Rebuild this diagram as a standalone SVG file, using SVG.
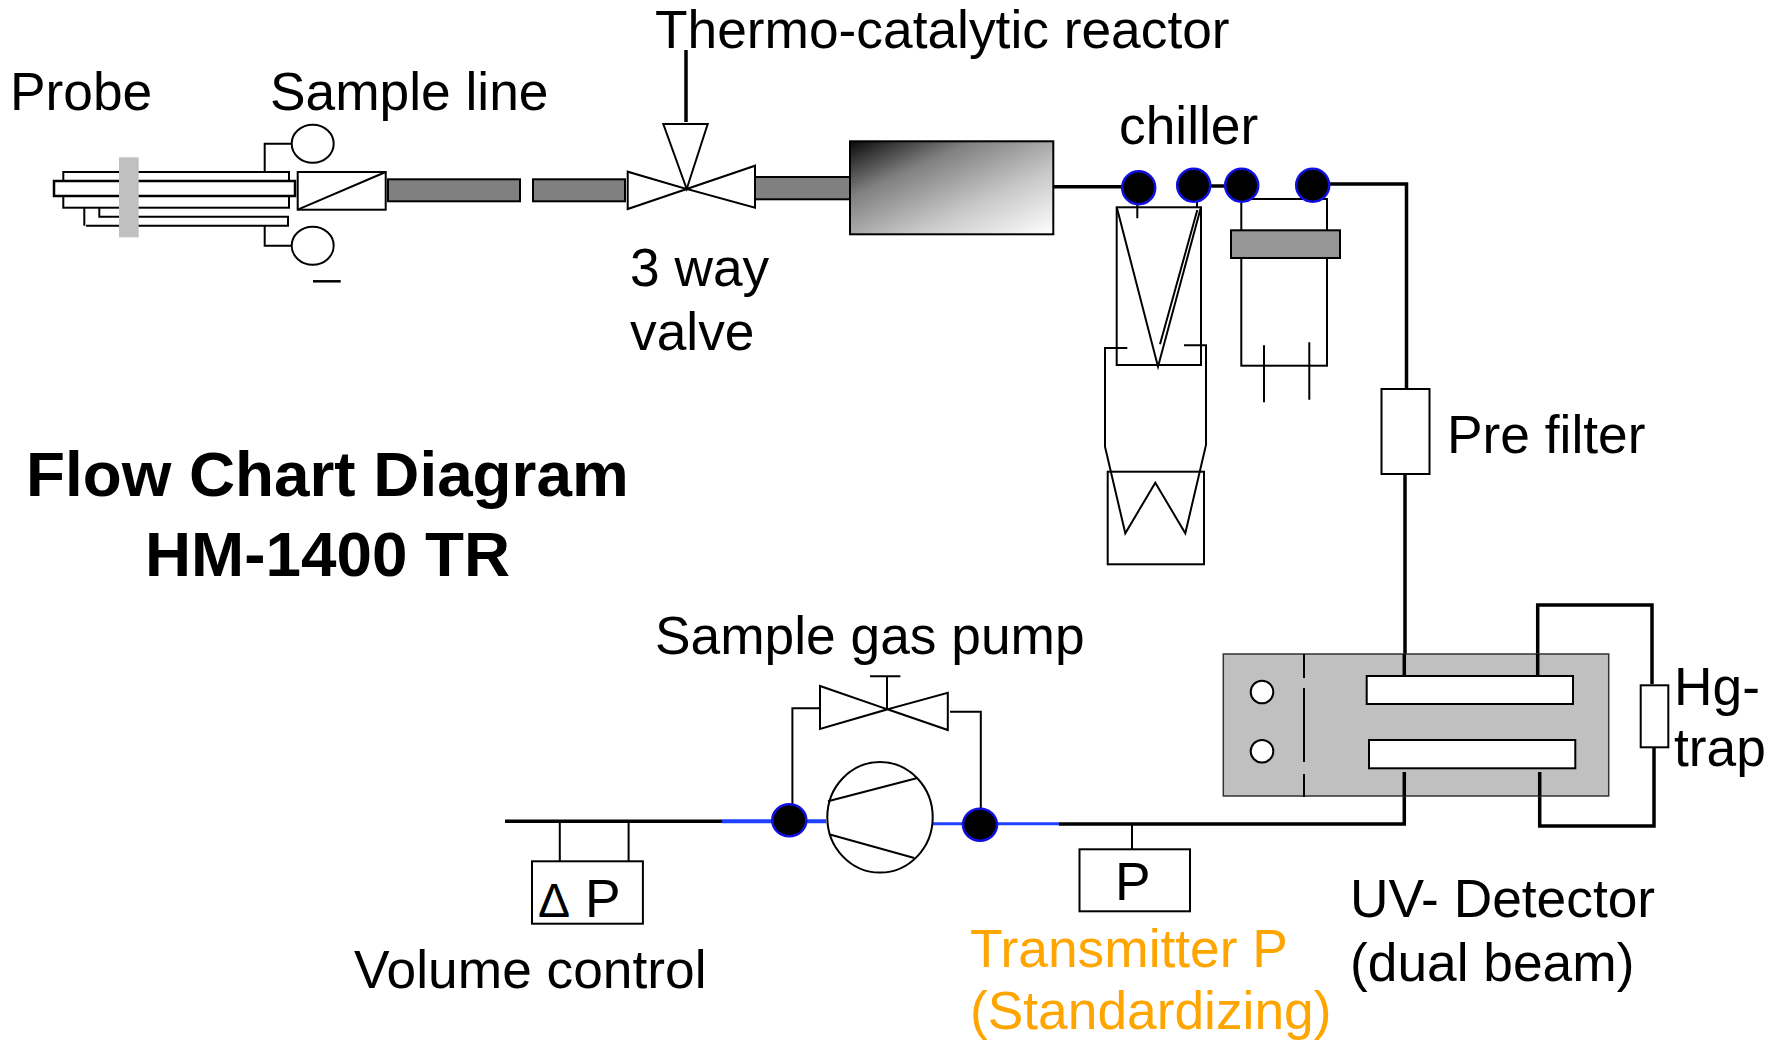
<svg xmlns="http://www.w3.org/2000/svg" width="1777" height="1042" viewBox="0 0 1777 1042">
<style>
text{font-family:"Liberation Sans",Arial,sans-serif;font-size:53.300px;fill:#000}
.b{font-weight:bold;font-size:63.800px}
.o{fill:#ffa500}
.s{fill:none;stroke:#000;stroke-width:2;stroke-linejoin:miter}
.w{fill:#fff;stroke:#000;stroke-width:2}
.g{fill:#808080;stroke:#000;stroke-width:2}
.p{fill:none;stroke:#000;stroke-width:3.500}
.bl{fill:none;stroke:#2040ff;stroke-width:3}
.d{fill:#000;stroke:#1010e0;stroke-width:2.500}
</style>
<defs>
<linearGradient id="rg" x1="0" y1="0" x2="1" y2="1"><stop offset="0" stop-color="#0a0a0a"/><stop offset="0.3" stop-color="#808080"/><stop offset="0.65" stop-color="#c8c8c8"/><stop offset="1" stop-color="#fff"/></linearGradient>
</defs>
<rect width="1777" height="1042" fill="#fff"/>
<g id="connectors">
<path class="p" d="M686 50V122"/>
<path class="p" d="M1053 186.700H1125"/>
<path class="p" d="M1205 186H1230"/>
<path class="p" d="M1325 184H1406.500V390"/>
<path class="p" d="M1405 474V676"/>
<path class="p" d="M1537.700 676V605H1652V684"/>
<path class="p" d="M1654 747V826H1539.700V772"/>
<path class="p" d="M1404.300 772V824H1059"/>
<path class="p" d="M505 821.300H722"/>
<path class="bl" style="stroke-width:4" d="M722 821.300H826"/>
<path class="bl" d="M932 823.700H1059"/>
<path class="s" d="M792.400 808V708.300H820"/>
<path class="s" d="M980.800 808V711.700H950"/>
<path class="s" d="M559.800 821V861M628.600 821V861M1132 824V849"/>
<path class="s" d="M264.700 172V143.700H292M264.700 225V245.700H292"/>
<path class="s" d="M1137.300 200V218.300M1197 200V207"/>
</g>
<g id="probe">
<rect class="w" x="63.300" y="172" width="225.700" height="35.700"/>
<rect class="w" x="54" y="181" width="241" height="15" style="stroke-width:2.500"/>
<path class="s" d="M99.300 207.700V216.700H288V225.700H86M84.300 207.700V225.700"/>
<rect x="119" y="157.300" width="19.700" height="80" fill="#c0c0c0"/>
<ellipse class="w" cx="312.700" cy="143.700" rx="21" ry="19"/>
<ellipse class="w" cx="312.700" cy="245.700" rx="21" ry="19"/>
<path class="p" style="stroke-width:2.500" d="M313 281.300H340.700"/>
</g>
<g id="sample-line">
<rect class="w" x="297.700" y="172" width="88" height="37.700"/>
<path class="s" d="M297.700 209.700L385.700 172"/>
<rect class="g" x="388" y="179.300" width="132" height="22"/>
<rect class="g" x="533" y="179.300" width="92" height="22"/>
</g>
<g id="three-way-valve">
<path class="w" d="M627.700 171.700V209L686.700 189ZM755 165.700V207.700L686.700 189ZM663.300 124H707.700L686.700 189Z"/>
</g>
<g id="reactor">
<rect class="g" x="755" y="177" width="95" height="22.300"/>
<rect x="850" y="141.300" width="203.300" height="93" fill="url(#rg)" stroke="#000" stroke-width="2"/>
</g>
<g id="chiller">
<rect class="s" x="1116.700" y="207.300" width="84.300" height="157.700"/>
<path class="s" d="M1116.700 207L1158 366.700L1201 207M1197.300 210L1160 344.300"/>
<path class="s" d="M1127.300 348H1105V446.700L1125.300 533.300L1155.300 482.700L1185.300 533.300L1206 445V345.300H1184"/>
<rect class="s" x="1107.700" y="471.700" width="96.300" height="92.600"/>
<rect class="s" x="1241.300" y="199" width="85.700" height="166.700"/>
<rect class="g" x="1231" y="230.300" width="109" height="27.700" style="fill:#969696"/>
<path class="s" d="M1264 345.300V402.300M1309.300 342.300V399.700"/>
<circle class="d" cx="1138.700" cy="187.700" r="16.500"/>
<circle class="d" cx="1193.700" cy="185.300" r="16.500"/>
<circle class="d" cx="1241.700" cy="185.300" r="16.500"/>
<circle class="d" cx="1312.700" cy="185.300" r="16.500"/>
</g>
<g id="pre-filter">
<rect class="w" x="1381.500" y="389" width="48" height="85"/>
</g>
<g id="uv-detector">
<rect x="1223.300" y="654" width="385.400" height="142" fill="#c0c0c0" stroke="#333" stroke-width="1.500"/>
<rect class="w" x="1366.700" y="676" width="206.300" height="28"/>
<rect class="w" x="1369" y="740" width="206.300" height="28.300"/>
<circle class="w" cx="1262" cy="692" r="11.300"/>
<circle class="w" cx="1262" cy="751.300" r="11.300"/>
<path class="s" d="M1304 654V678M1304 688V762M1304 774V797"/>
<path class="p" d="M1537.700 654V676M1404.300 654V676M1404.300 772V796M1539.700 772V796"/>
</g>
<g id="hg-trap">
<rect class="w" x="1640.700" y="685.300" width="27.600" height="62"/>
</g>
<g id="bypass-valve">
<path class="w" d="M820 686V729L887.500 709.300ZM947.800 692.700V730L887.500 709.300Z"/>
<path class="s" d="M887 709V676.300M870 676.300H900.400"/>
</g>
<g id="pump">
<ellipse class="w" cx="880" cy="817.300" rx="52.700" ry="55.300"/>
<path class="s" d="M828 801.300L916.500 778.300M829 834.300L914.300 858"/>
<ellipse class="d" cx="789.300" cy="820.300" rx="17" ry="16"/>
<ellipse class="d" cx="980" cy="824.700" rx="17" ry="16"/>
</g>
<g id="delta-p">
<rect class="w" x="532" y="861.300" width="110.900" height="62.400"/>
<text x="538" y="917" style="font-size:48px">Δ</text>
<text x="585" y="917">P</text>
</g>
<g id="transmitter-p">
<rect class="w" x="1079.500" y="849.300" width="110.500" height="62"/>
<text x="1115" y="900">P</text>
</g>
<g id="labels">
<text x="10" y="110">Probe</text>
<text x="270" y="110">Sample line</text>
<text x="655" y="48">Thermo-catalytic reactor</text>
<text x="1119" y="144">chiller</text>
<text x="630" y="286">3 way</text>
<text x="630" y="350">valve</text>
<text x="1447" y="453">Pre filter</text>
<text class="b" x="26" y="496">Flow Chart Diagram</text>
<text class="b" x="145" y="576">HM-1400 TR</text>
<text x="655" y="654">Sample gas pump</text>
<text x="1674" y="705">Hg-</text>
<text x="1674" y="766">trap</text>
<text x="1350" y="917">UV- Detector</text>
<text x="1350" y="981">(dual beam)</text>
<text x="354" y="988">Volume control</text>
<text class="o" x="970" y="967">Transmitter P</text>
<text class="o" x="970" y="1029">(Standardizing)</text>
</g>
</svg>
